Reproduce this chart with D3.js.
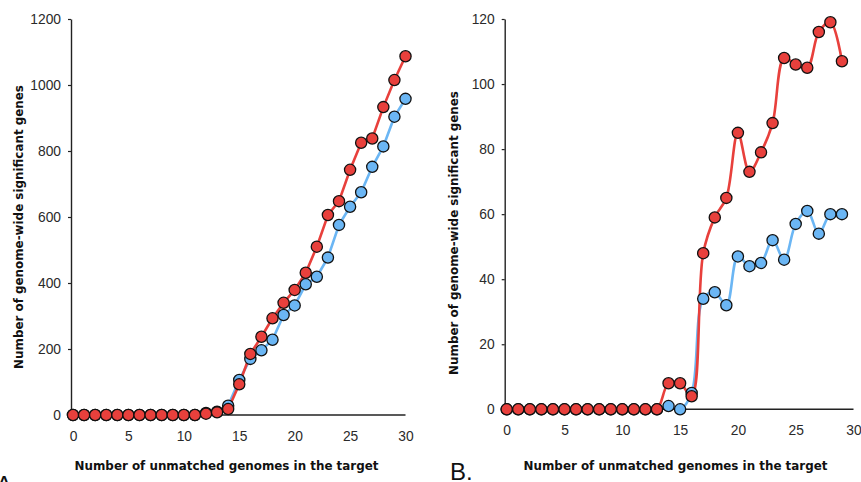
<!DOCTYPE html>
<html>
<head>
<meta charset="utf-8">
<script src="https://cdn.jsdelivr.net/npm/d3@7"></script>
<style>
  body { margin: 0; background: #fff; }
  svg { display: block; }
  .tick text { font-family: "Liberation Sans", Arial, sans-serif; font-size: 13.8px; fill: #2a2a2a; }
  .tick line { stroke: #222; stroke-width: 1.2; }
  .domain { stroke: #222; stroke-width: 1.4; }
  .title { font-family: "DejaVu Sans", Verdana, sans-serif; font-weight: bold; font-size: 11.9px; fill: #111; }
  .panel { font-family: "Liberation Sans", Arial, sans-serif; font-size: 24px; fill: #111; }
</style>
</head>
<body>
<svg id="chart" width="861" height="482"></svg>
<script>
// Panel A data (0..30 unmatched genomes)
var xA = d3.range(0, 31);
var redA = [0,0,0,0,0,0,0,0,0,0,0,0,4,8,18,93,185,237,293,340,379,431,510,606,648,743,825,838,933,1015,1087];
var blueA = [0,0,0,0,0,0,0,0,0,0,0,0,6,10,28,106,170,196,228,303,332,396,419,477,576,631,675,752,814,904,958];
var yTicksA = [0,200,400,600,800,1000,1200];

// Panel B data (0..29)
var xB = d3.range(0, 30);
var redB = [0,0,0,0,0,0,0,0,0,0,0,0,0,0,8,8,4,48,59,65,85,73,79,88,108,106,105,116,119,107];
var blueB = [0,0,0,0,0,0,0,0,0,0,0,0,0,0,1,0,5,34,36,32,47,44,45,52,46,57,61,54,60,60];
var yTicksB = [0,20,40,60,80,100,120];

var xTicks = [0,5,10,15,20,25,30];
var xTitle = "Number of unmatched genomes in the target";
var yTitle = "Number of genome-wide significant genes";

var svg = d3.select('#chart');
var RED = '#e8403c', BLUE = '#6bb6f4';

function panel(opts) {
    var x = d3.scaleLinear().domain([0, 30]).range(opts.xr);
    var y = d3.scaleLinear().domain([0, opts.ymax]).range(opts.yr);
    var g = svg.append('g');

    // axes
    var ax = g.append('g')
        .attr('transform', 'translate(0,' + y(0) + ')')
        .call(d3.axisBottom(x).tickValues(xTicks).tickSize(0).tickSizeOuter(0).tickPadding(16));
    ax.select('.domain').attr('d', 'M' + (opts.xr[0] - 2) + ',0H' + opts.xr[1]);

    g.append('g')
        .attr('transform', 'translate(' + (opts.xr[0] - 2) + ',0)')
        .call(d3.axisLeft(y).tickValues(opts.yTicks).tickFormat(d3.format('d'))
            .tickSize(3).tickSizeOuter(0).tickPadding(7));

    // lines then markers, blue first so red sits on top
    var series = [{v: opts.blue, c: BLUE}, {v: opts.red, c: RED}];
    series.forEach(function(s) {
        var pts = opts.xs.map(function(d, i) { return [d, s.v[i]]; });
        var line = d3.line().x(function(d){return x(d[0]);}).y(function(d){return y(d[1]);}).curve(opts.curve);
        g.append('path').datum(pts)
            .attr('d', line).attr('fill', 'none')
            .attr('stroke', s.c).attr('stroke-width', 2.6);
    });
    series.forEach(function(s) {
        g.selectAll(null).data(opts.xs.map(function(d, i) { return [d, s.v[i]]; }))
            .enter().append('circle')
            .attr('cx', function(d){return x(d[0]);})
            .attr('cy', function(d){return y(d[1]);})
            .attr('r', 5.6)
            .attr('fill', s.c).attr('stroke', '#111').attr('stroke-width', 1.3);
    });

    // titles
    g.append('text').attr('class', 'title')
        .attr('x', opts.xtc[0]).attr('y', opts.xtc[1])
        .attr('text-anchor', 'middle').text(xTitle);
    g.append('text').attr('class', 'title')
        .attr('transform', 'translate(' + opts.ytc[0] + ',' + opts.ytc[1] + ') rotate(-90)')
        .attr('text-anchor', 'middle').text(yTitle);
    g.append('text').attr('class', 'panel')
        .attr('x', opts.lab[0]).attr('y', opts.lab[1]).text(opts.label);
}

panel({xs: xA, red: redA, blue: blueA, ymax: 1200, yTicks: yTicksA,
       xr: [73, 405.5], yr: [415, 19], curve: d3.curveLinear,
       xtc: [226.5, 470], ytc: [23, 227], lab: [-4, 493], label: 'A.'});

panel({xs: xB, red: redB, blue: blueB, ymax: 120, yTicks: yTicksB,
       xr: [506.7, 853.5], yr: [409.3, 19], curve: d3.curveCatmullRom,
       xtc: [675.5, 470], ytc: [458, 233], lab: [450, 480], label: 'B.'});
</script>
</body>
</html>
